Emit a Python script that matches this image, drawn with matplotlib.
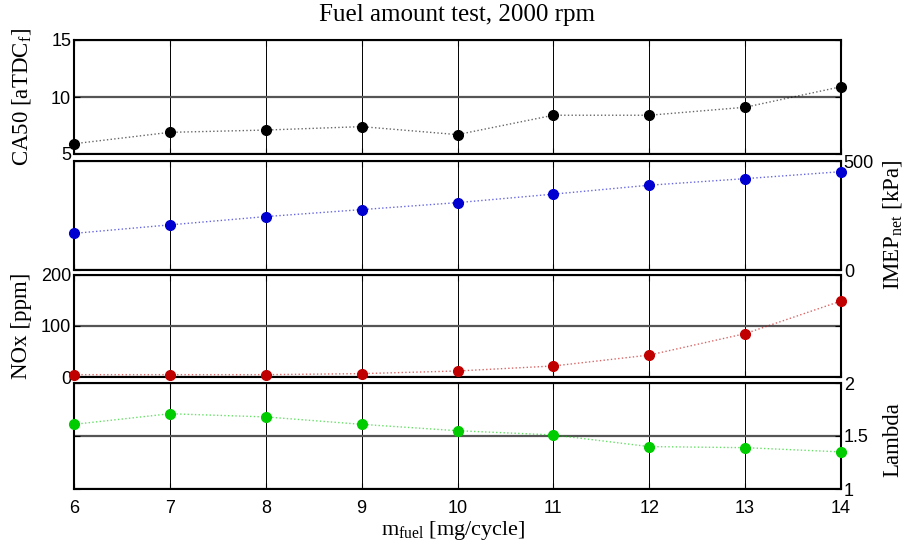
import matplotlib
matplotlib.use("Agg")
import matplotlib.pyplot as plt
from matplotlib import font_manager

# fuel amount sweep at 2000 rpm
m_fuel = [6, 7, 8, 9, 10, 11, 12, 13, 14]
ca50 = [5.9, 6.9, 7.1, 7.4, 6.7, 8.4, 8.4, 9.1, 10.9]
imep = [168, 207, 245, 277, 309, 348, 389, 419, 451]
nox = [4.6, 4.6, 4.6, 6.6, 11.8, 21.6, 43, 85, 149]
lam = [1.61, 1.71, 1.68, 1.61, 1.55, 1.51, 1.40, 1.39, 1.35]

ca50_ticks = [5, 10, 15]
imep_ticks = [0, 500]
nox_ticks = [0, 100, 200]
lam_ticks = [1, 1.5, 2]
lam_labels = ["1", "1.5", "2"]

names = {f.name for f in font_manager.fontManager.ttflist}
tick_font = "Liberation Sans Narrow" if "Liberation Sans Narrow" in names else "Liberation Sans"
serif = "Liberation Serif"

plt.rcParams["mathtext.fontset"] = "custom"
plt.rcParams["mathtext.rm"] = serif

W, H = 912, 547
fig = plt.figure(figsize=(W / 100, H / 100), dpi=100)


def add_panel(top, bottom):
    return fig.add_axes([74 / W, 1 - bottom / H, (841 - 74) / W, (bottom - top) / H])


panels = [
    (add_panel(40, 154), ca50, "black", (5, 15), ca50_ticks, "left"),
    (add_panel(161, 270), imep, "#0000d0", (0, 500), imep_ticks, "right"),
    (add_panel(275, 377), nox, "#c00000", (0, 200), nox_ticks, "left"),
    (add_panel(383, 489), lam, "#00cc00", (1, 2), lam_ticks, "right"),
]

for i, (ax, vals, col, ylim, yt, side) in enumerate(panels):
    ax.plot(m_fuel, vals, ls=":", lw=1.0, color=col, alpha=0.6, zorder=3)
    ax.plot(m_fuel, vals, ls="none", marker="o", ms=7, color=col, zorder=4, clip_on=False)
    ax.set_xlim(6, 14)
    ax.set_ylim(*ylim)
    ax.set_xticks(m_fuel)
    ax.set_yticks(yt)
    ax.grid(axis="x", color="black", lw=0.7)
    ax.grid(axis="y", color="#555555", lw=1.6)
    ax.set_axisbelow(True)
    for s in ax.spines.values():
        s.set_linewidth(1.5)
    ax.tick_params(direction="in", length=4, width=0.8, top=True, right=True,
                   labelleft=(side == "left"), labelright=(side == "right"),
                   labelbottom=(i == 3), labelsize=13, pad=2)
    ax.tick_params(axis="x", pad=8)

panels[3][0].set_yticklabels(lam_labels)
for ax, *_ in panels:
    for lb in ax.get_xticklabels() + ax.get_yticklabels():
        lb.set_fontfamily(tick_font)

fig.text(457 / W, 1 - 15 / H, "Fuel amount test, 2000 rpm", ha="center", va="center",
         fontsize=18, family=serif)
fig.text(453 / W, 1 - 531 / H, r"m$_\mathregular{fuel}$ [mg/cycle]", ha="center", va="center",
         fontsize=16, family=serif)

lab = dict(fontsize=16.5, family=serif, rotation=90, ha="center", va="center")
fig.text(22 / W, 1 - 97 / H, r"CA50 [aTDC$_\mathregular{f}$]", **lab)
fig.text(893 / W, 1 - 225 / H, r"IMEP$_\mathregular{net}$ [kPa]", **lab)
fig.text(22 / W, 1 - 326 / H, "NOx [ppm]", **lab)
fig.text(893 / W, 1 - 440 / H, "Lambda", **lab)

fig.savefig("out.png", dpi=100)
